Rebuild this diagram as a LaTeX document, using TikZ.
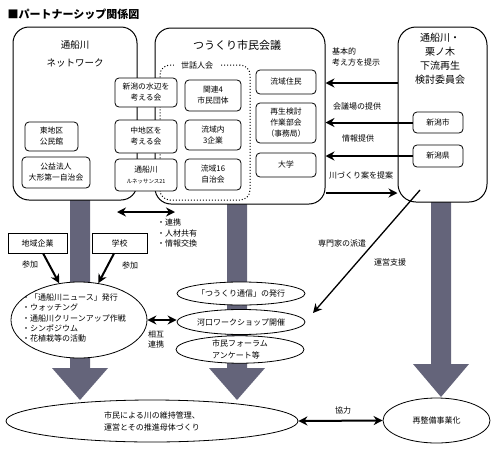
\documentclass[tikz,border=0pt]{standalone}
\usepackage{fontspec}
\setmainfont{Noto Sans CJK JP}
\usetikzlibrary{shapes.geometric,arrows.meta}
\definecolor{bargray}{RGB}{100,100,122}
\tikzset{
    bigbox/.style={draw, line width=1pt, rounded corners=16pt, fill=white},
    smallbox/.style={draw, line width=0.8pt, rounded corners=4pt, fill=white, align=center, inner sep=1pt, font=\fontsize{7.8}{11}\selectfont},
    sqbox/.style={draw, line width=0.8pt, font=\fontsize{8}{10}\selectfont},
    oval/.style={draw, ellipse, line width=0.8pt, fill=white, inner sep=0pt, align=center, font=\fontsize{8}{12}\selectfont},
    txt/.style={inner sep=0pt, align=left, font=\fontsize{8}{10.2}\selectfont},
    link/.style={line width=2pt},
}
\begin{document}
\begin{tikzpicture}[x=1pt, y=-1pt, >={Stealth[length=9pt,width=9pt]}]
\useasboundingbox (0,0) rectangle (495,450);

\node[anchor=west, font=\bfseries\fontsize{11}{13}\selectfont] (title) at (4,14) {■パートナーシップ関係図};

% gray bars
\foreach \bx/\btop/\bhead/\btip in {80/200/368/400, 237/204/368/400, 441/202/364/397}
{
    \fill[bargray] (\bx-10,\btop) -- (\bx+10,\btop) -- (\bx+10,\bhead) -- (\bx+28,\bhead)
        -- (\bx,\btip) -- (\bx-28,\bhead) -- (\bx-10,\bhead) -- cycle;
}

% big boxes
\node[bigbox, minimum width=124pt, minimum height=173pt] (net) at (75,113.5) {};
\node[bigbox, minimum width=170pt, minimum height=176pt] (kaigi) at (240,116) {};
\node[bigbox, minimum width=89pt, minimum height=175pt, rounded corners=18pt] (iinkai) at (442.5,114.5) {};
\node[align=center, font=\fontsize{9.5}{18}\selectfont] (nettitle) at (75,54) {通船川\\ネットワーク};
\node[font=\fontsize{11}{13}\selectfont] (kaigititle) at (237,45) {つうくり市民会議};
\node[align=center, font=\fontsize{10}{14}\selectfont] (iinkaititle) at (440,59) {通船川・\\栗ノ木\\下流再生\\検討委員会};

\node[draw, dotted, line width=1pt, rounded corners=10pt, minimum width=90pt, minimum height=135pt] (sewa) at (205,132.5) {};
\node[txt, fill=white, inner xsep=7pt, inner ysep=1pt] (sewatitle) at (197,65) {世話人会};

% small boxes
\node[smallbox, minimum width=62pt, minimum height=29pt] (mizube) at (146,92.5) {新潟の水辺を\\考える会};
\node[smallbox, minimum width=62pt, minimum height=33pt] (naka) at (146,136.5) {中地区を\\考える会};
\node[smallbox, minimum width=62pt, minimum height=32pt] (runesa) at (146,175) {通船川\\{\fontsize{5.5}{8}\selectfont ルネッサンス21}};
\node[smallbox, minimum width=56pt, minimum height=31pt] (kanren) at (213,95.5) {関連4\\市民団体};
\node[smallbox, minimum width=56pt, minimum height=30pt] (kigyo) at (213,135) {流域内\\3企業};
\node[smallbox, minimum width=56pt, minimum height=31pt] (jichi) at (213,174.5) {流域16\\自治会};
\node[smallbox, minimum width=60pt, minimum height=24pt] (jumin) at (286,82) {流域住民};
\node[smallbox, minimum width=60pt, minimum height=40pt] (sagyo) at (286,123) {再生検討\\作業部会\\（事務局）};
\node[smallbox, minimum width=60pt, minimum height=24pt] (daigaku) at (286,165) {大学};
\node[smallbox, minimum width=53pt, minimum height=29pt] (kominkan) at (51.5,136.5) {東地区\\公民館};
\node[smallbox, minimum width=68pt, minimum height=31pt] (ogata) at (56,172.5) {公益法人\\大形第一自治会};
\node[smallbox, minimum width=50pt, minimum height=21pt] (shi) at (438,122.5) {新潟市};
\node[smallbox, minimum width=50pt, minimum height=22pt] (ken) at (438,156) {新潟県};

% arrows between kaigi and iinkai
\draw[->, link] (iinkai.west |- 0,83) -- (kaigi.east |- 0,83);
\draw[->, link] (shi.west) -- (kaigi.east |- shi.west);
\draw[->, link] (ken.west) -- (kaigi.east |- ken.west);
\draw[->, link] (kaigi.east |- 0,193) -- (iinkai.west |- 0,193);
\node[txt, anchor=west] (kihon) at (332,57) {基本的\\考え方を提示};
\node[txt] (kaijo) at (357,106) {会議場の提供};
\node[txt] (joho) at (358,138) {情報提供};
\node[txt] (kawa) at (361,175) {川づくり案を提案};

% renkei
\coordinate (renL) at (117,212);
\coordinate (renR) at (175,212);
\draw[<->, link] (renL) -- (renR);
\node[txt, anchor=west] (renkei) at (157,233) {・連携\\・人材共有\\・情報交換};

\node[sqbox, minimum width=59pt, minimum height=20pt] (chiiki) at (37.5,243) {地域企業};
\node[sqbox, minimum width=55pt, minimum height=20pt] (gakko) at (119.5,243) {学校};

% activities
\node[oval, minimum width=136pt, minimum height=76pt] (katsudo) at (79,320) {};
\node[txt, anchor=west] (katsudotxt) at (22,318) {・「通船川ニュース」発行\\・ウォッチング\\・通船川クリーンアップ作戦\\・シンポジウム\\・花植栽等の活動};
\draw[->, link] (chiiki) -- (katsudo);
\draw[->, link] (gakko) -- (katsudo);
\node[txt] (sanka1) at (30,264) {参加};
\node[txt] (sanka2) at (130,265) {参加};

\node[oval, minimum width=128pt, minimum height=23pt] (tsushin) at (241,293.5) {「つうくり通信」の発行};
\node[oval, minimum width=128pt, minimum height=25pt] (wsp) at (241,322) {河口ワークショップ開催};
\node[oval, minimum width=128pt, minimum height=26pt, align=left] (forum) at (240,349.5) {市民フォーラム\\アンケート等};
\draw[<->, link] (katsudo.east) -- (wsp.west |- katsudo.east);
\node[txt, align=center] (sogo) at (156,339.5) {相互\\連携};

\coordinate (hakenS) at (420,190);
\coordinate (hakenE) at (313,313);
\draw[->, line width=1.3pt] (hakenS) -- (hakenE);
\node[txt] (haken) at (342,243) {専門家の派遣};
\node[txt] (unei) at (390,262) {運営支援};

% results
\node[oval, minimum width=292pt, minimum height=42pt, align=left] (iji) at (152,421) {市民による川の維持管理、\\運営とその推進母体づくり};
\node[oval, minimum width=107pt, minimum height=45pt] (jigyo) at (436.5,420.5) {再整備事業化};
\draw[<->, link] (iji.east) -- (jigyo.west);
\node[txt] (kyoryoku) at (343,410) {協力};

\end{tikzpicture}
\end{document}
